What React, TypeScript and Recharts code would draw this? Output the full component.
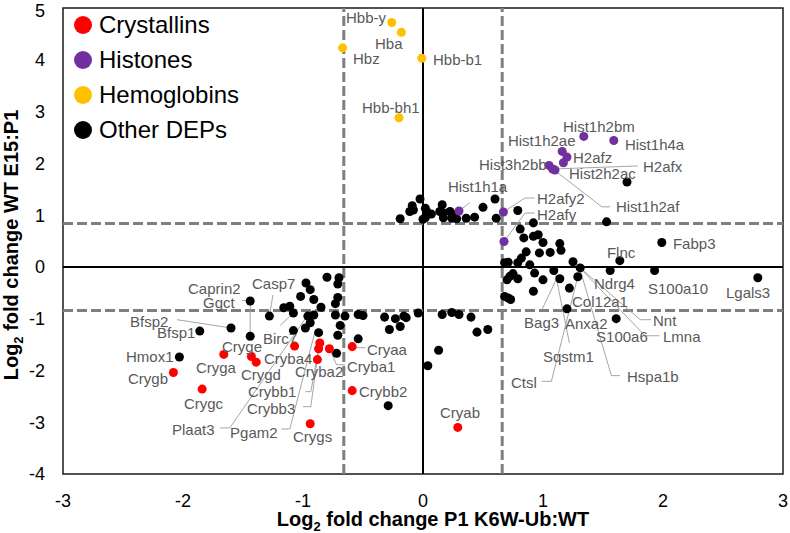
import React from "react";
import { ScatterChart, Scatter, XAxis, YAxis, ReferenceLine, ReferenceArea, Legend, Label } from "recharts";

type Pt = { name?: string; x: number; y: number };

const FONT = '"Liberation Sans", Arial, sans-serif';

const xTicks = [-3, -2, -1, 0, 1, 2, 3];
const yTicks = [-4, -3, -2, -1, 0, 1, 2, 3, 4, 5];
const xCut = 0.66;
const yCut = 0.84;

const crystallins: Pt[] = [
  { name: "Crygb", x: -2.08, y: -2.04 },
  { name: "Crygc", x: -1.84, y: -2.36 },
  { name: "Cryga", x: -1.66, y: -1.69 },
  { name: "Cryge", x: -1.43, y: -1.73 },
  { name: "Crygd", x: -1.39, y: -1.84 },
  { name: "Cryba4", x: -1.07, y: -1.53 },
  { name: "Crybb1", x: -0.86, y: -1.47 },
  { name: "Crybb3", x: -0.87, y: -1.58 },
  { name: "Cryba1", x: -0.78, y: -1.58 },
  { name: "Cryba2", x: -0.88, y: -1.79 },
  { name: "Crygs", x: -0.94, y: -3.03 },
  { name: "Cryaa", x: -0.59, y: -1.54 },
  { name: "Crybb2", x: -0.59, y: -2.39 },
  { name: "Cryab", x: 0.29, y: -3.1 },
];

const histones: Pt[] = [
  { name: "Hist1h2bm", x: 1.34, y: 2.52 },
  { name: "Hist1h4a", x: 1.59, y: 2.44 },
  { name: "Hist1h2ae", x: 1.16, y: 2.23 },
  { name: "H2afz", x: 1.2, y: 2.12 },
  { name: "Hist2h2ac", x: 1.17, y: 2.01 },
  { name: "Hist3h2bb", x: 1.05, y: 1.96 },
  { name: "H2afx", x: 1.08, y: 1.89 },
  { name: "Hist1h2af", x: 1.1, y: 1.87 },
  { name: "Hist1h1a", x: 0.3, y: 1.08 },
  { name: "H2afy2", x: 0.67, y: 1.06 },
  { name: "H2afy", x: 0.675, y: 0.49 },
];

const hemoglobins: Pt[] = [
  { name: "Hbb-y", x: -0.26, y: 4.72 },
  { name: "Hba", x: -0.18, y: 4.53 },
  { name: "Hbz", x: -0.67, y: 4.23 },
  { name: "Hbb-b1", x: -0.01, y: 4.03 },
  { name: "Hbb-bh1", x: -0.2, y: 2.88 },
];

// other differentially expressed proteins, [x, y]
const otherXY: [number, number][] = [
  // upper middle
  [-0.19, 0.93], [-0.09, 1.18], [-0.11, 1.07], [-0.025, 1.31], [-0.08, 1.1], [0.0, 0.92],
  [0.02, 1.13], [0.03, 1.07], [0.07, 1.02], [0.02, 0.95], [0.16, 1.2], [0.14, 1.07],
  [0.17, 1.04], [0.225, 1.07], [0.17, 0.95], [0.24, 0.94], [0.25, 1.01], [0.28, 0.93],
  [0.36, 0.94], [0.43, 0.96], [0.5, 1.15], [0.6, 1.31], [0.61, 0.94], [0.79, 1.09],
  // right
  [0.92, 0.85], [0.81, 0.73], [0.84, 0.56], [0.92, 0.59], [0.96, 0.62], [1.0, 0.47],
  [1.14, 0.45], [1.15, 0.32], [1.06, 0.28], [0.97, 0.27], [0.86, 0.29], [0.82, 0.17],
  [0.68, 0.08], [0.71, 0.09], [0.79, 0.08], [0.89, 0.04], [1.25, 0.1], [1.31, -0.02],
  [1.09, -0.07], [0.93, -0.12], [0.75, -0.13], [0.725, -0.18], [0.7, -0.25], [0.79, -0.23],
  [1.0, -0.25], [1.14, -0.23], [1.29, -0.19], [0.92, -0.47], [1.22, -0.41], [0.71, -0.6],
  [0.68, -0.57], [0.73, -0.63], [1.2, -0.81], [1.56, -0.07], [1.53, 0.87], [1.7, 1.64],
  [1.64, 0.12], [1.99, 0.47], [1.93, -0.07], [2.79, -0.21], [1.61, -1.0],
  // left
  [-0.975, -0.31], [-0.94, -0.44], [-1.02, -0.57], [-0.91, -0.63], [-0.8, -0.2], [-0.7, -0.21],
  [-0.71, -0.33], [-0.71, -0.59], [-0.73, -0.71], [-0.85, -0.78], [-1.16, -0.79], [-1.11, -0.76],
  [-1.08, -0.89], [-1.28, -0.95], [-1.44, -0.66], [-1.44, -1.34], [-0.96, -0.95], [-0.91, -0.93],
  [-0.94, -1.08], [-1.08, -1.23], [-0.98, -1.18], [-0.87, -1.27], [-0.73, -0.93], [-0.65, -0.95],
  [-0.69, -1.13], [-0.71, -1.32], [-0.54, -0.92], [-0.5, -0.94], [-0.32, -0.97], [-0.23, -1.0],
  [-0.16, -0.95], [-0.14, -0.98], [-0.19, -1.15], [-0.28, -1.21], [-0.04, -0.89], [-0.54, -1.39],
  [-0.72, -1.67], [0.04, -1.91], [0.13, -1.61], [0.16, -0.92], [0.24, -0.88], [0.3, -0.92],
  [0.4, -0.97], [0.45, -1.26], [0.54, -1.21], [-0.29, -2.68], [-1.6, -1.18], [-1.86, -1.24],
  [-2.03, -1.74],
];
const otherDeps: Pt[] = otherXY.map(([x, y]) => ({ x, y }));

// gene name anchors (left edge, middle of text), in axis units
const geneLabels: Pt[] = [
  { name: "Hbb-y", x: -0.642, y: 4.81 },
  { name: "Hba", x: -0.4, y: 4.32 },
  { name: "Hbz", x: -0.583, y: 4.02 },
  { name: "Hbb-b1", x: 0.083, y: 4.0 },
  { name: "Hbb-bh1", x: -0.508, y: 3.07 },
  { name: "Hist1h2bm", x: 1.167, y: 2.72 },
  { name: "Hist1h4a", x: 1.683, y: 2.36 },
  { name: "Hist1h2ae", x: 0.708, y: 2.45 },
  { name: "H2afz", x: 1.25, y: 2.12 },
  { name: "Hist3h2bb", x: 0.467, y: 1.97 },
  { name: "Hist2h2ac", x: 1.217, y: 1.81 },
  { name: "H2afx", x: 1.833, y: 1.93 },
  { name: "Hist1h2af", x: 1.608, y: 1.16 },
  { name: "Hist1h1a", x: 0.208, y: 1.56 },
  { name: "H2afy2", x: 0.95, y: 1.33 },
  { name: "H2afy", x: 0.95, y: 1.02 },
  { name: "Fabp3", x: 2.083, y: 0.46 },
  { name: "Flnc", x: 1.533, y: 0.27 },
  { name: "Ndrg4", x: 1.425, y: -0.33 },
  { name: "S100a10", x: 1.875, y: -0.41 },
  { name: "Lgals3", x: 2.525, y: -0.5 },
  { name: "Col12a1", x: 1.242, y: -0.66 },
  { name: "Bag3", x: 0.842, y: -1.08 },
  { name: "Anxa2", x: 1.183, y: -1.1 },
  { name: "Nnt", x: 1.917, y: -1.04 },
  { name: "S100a6", x: 1.442, y: -1.35 },
  { name: "Lmna", x: 2.0, y: -1.35 },
  { name: "Sqstm1", x: 1.0, y: -1.74 },
  { name: "Hspa1b", x: 1.7, y: -2.12 },
  { name: "Ctsl", x: 0.733, y: -2.24 },
  { name: "Caprin2", x: -1.958, y: -0.41 },
  { name: "Casp7", x: -1.425, y: -0.33 },
  { name: "Ggct", x: -1.833, y: -0.68 },
  { name: "Bfsp2", x: -2.442, y: -1.06 },
  { name: "Bfsp1", x: -2.217, y: -1.27 },
  { name: "Birc7", x: -1.333, y: -1.39 },
  { name: "Hmox1", x: -2.475, y: -1.74 },
  { name: "Crygb", x: -2.458, y: -2.16 },
  { name: "Cryga", x: -1.892, y: -1.95 },
  { name: "Cryge", x: -1.675, y: -1.54 },
  { name: "Crygd", x: -1.517, y: -2.07 },
  { name: "Crygc", x: -1.992, y: -2.63 },
  { name: "Cryba4", x: -1.325, y: -1.76 },
  { name: "Cryba2", x: -1.067, y: -2.03 },
  { name: "Crybb1", x: -1.458, y: -2.41 },
  { name: "Crybb3", x: -1.467, y: -2.74 },
  { name: "Plaat3", x: -2.092, y: -3.15 },
  { name: "Pgam2", x: -1.608, y: -3.19 },
  { name: "Crygs", x: -1.083, y: -3.28 },
  { name: "Cryaa", x: -0.467, y: -1.6 },
  { name: "Cryba1", x: -0.633, y: -1.93 },
  { name: "Crybb2", x: -0.533, y: -2.41 },
  { name: "Cryab", x: 0.142, y: -2.82 },
];

// leader lines from points to their names
const leaders: [number, number][][] = [
  [[0.3, 1.08], [0.39, 1.24]],
  [[0.67, 1.06], [0.85, 1.33], [0.93, 1.33]],
  [[0.675, 0.49], [0.85, 1.04], [0.93, 1.04]],
  [[1.08, 1.89], [1.79, 1.95]],
  [[1.1, 1.86], [1.49, 1.16], [1.56, 1.16]],
  [[-1.28, -0.95], [-1.25, -0.54]],
  [[-1.51, -0.65], [-1.44, -0.65], [-1.44, -1.34]],
  [[-2.05, -1.02], [-1.6, -1.18]],
  [[-1.19, -1.13], [-1.08, -0.89]],
  [[-0.98, -2.41], [-0.935, -2.41], [-0.86, -1.47]],
  [[-1.0, -2.7], [-0.935, -2.7], [-0.87, -1.58]],
  [[-0.78, -1.58], [-0.72, -1.89], [-0.65, -1.89]],
  [[-0.55, -1.56], [-0.48, -1.56]],
  [[-1.69, -3.11], [-1.61, -3.11], [-0.98, -1.0]],
  [[-1.18, -3.13], [-1.11, -3.13], [-0.9, -1.25]],
  [[1.25, 0.1], [1.81, -1.02], [1.9, -1.02]],
  [[1.27, 0.07], [1.85, -1.33], [1.97, -1.33]],
  [[1.31, -0.06], [1.57, -2.1], [1.64, -2.1]],
  [[1.1, -0.09], [1.22, -1.47]],
  [[1.11, -0.25], [0.99, -0.83]],
  [[1.29, -0.19], [1.07, -2.21], [0.99, -2.21]],
];

const seriesList = [
  { name: "Crystallins", color: "#ff0000", data: crystallins },
  { name: "Histones", color: "#7030a0", data: histones },
  { name: "Hemoglobins", color: "#ffc000", data: hemoglobins },
  { name: "Other DEPs", color: "#000000", data: otherDeps },
];

const LegendBox = () => (
  <div style={{ fontFamily: FONT, fontSize: 24, color: "#000" }}>
    {seriesList.map((s) => (
      <div key={s.name} style={{ display: "flex", alignItems: "center", height: 35 }}>
        <span style={{ width: 18, height: 18, borderRadius: "50%", background: s.color, marginRight: 7 }} />
        <span>{s.name}</span>
      </div>
    ))}
  </div>
);

const GeneName = (props: any) => (
  <text x={props.cx} y={props.cy} dominantBaseline="central" fontFamily={FONT} fontSize={15} fill="#595959">
    {props.payload.name}
  </text>
);

const XTitle = (props: any) => {
  const vb = props.viewBox;
  return (
    <text x={vb.x + vb.width / 2 + 10} y={vb.y + 52} textAnchor="middle" fontFamily={FONT} fontSize={20} fontWeight="bold" fill="#000">
      Log<tspan dy={5} fontSize={13}>2</tspan>
      <tspan dy={-5}> fold change  P1 K6W-Ub:WT</tspan>
    </text>
  );
};

const YTitle = (props: any) => {
  const vb = props.viewBox;
  const cx = 18;
  const cy = vb.y + vb.height / 2 + 4;
  return (
    <text x={cx} y={cy} transform={`rotate(-90 ${cx} ${cy})`} textAnchor="middle" fontFamily={FONT} fontSize={20} fontWeight="bold" fill="#000">
      Log<tspan dy={5} fontSize={13}>2</tspan>
      <tspan dy={-5}> fold change WT E15:P1</tspan>
    </text>
  );
};

export default function App() {
  const dash = { stroke: "#7f7f7f", strokeWidth: 3, strokeDasharray: "10 4" };
  return (
    <div style={{ position: "fixed", left: 0, top: 0, width: 790, height: 533, background: "#fff" }}>
      <ScatterChart width={790} height={533} margin={{ top: 8, right: 7, bottom: 0, left: 0 }}>
        <XAxis
          type="number"
          dataKey="x"
          domain={[-3, 3]}
          ticks={xTicks}
          axisLine={false}
          tickLine={false}
          tickSize={0}
          tickMargin={20}
          height={59}
          tick={{ fill: "#000", fontSize: 18, fontFamily: FONT }}
        >
          <Label content={XTitle} />
        </XAxis>
        <YAxis
          type="number"
          dataKey="y"
          domain={[-4, 5]}
          ticks={yTicks}
          axisLine={false}
          tickLine={false}
          tickSize={0}
          tickMargin={18}
          width={63}
          tick={{ fill: "#000", fontSize: 18, fontFamily: FONT }}
        >
          <Label content={YTitle} />
        </YAxis>
        <ReferenceArea x1={-3} x2={3} y1={-4} y2={5} fill="none" stroke="#1a1a1a" strokeWidth={1.5} />
        <ReferenceLine x={0} stroke="#000" strokeWidth={2} />
        <ReferenceLine y={0} stroke="#000" strokeWidth={2} />
        <ReferenceLine x={-xCut} {...dash} />
        <ReferenceLine x={xCut} {...dash} />
        <ReferenceLine y={-yCut} {...dash} />
        <ReferenceLine y={yCut} {...dash} />
        {leaders.flatMap((pts, i) =>
          pts.slice(1).map((p, j) => (
            <ReferenceLine
              key={`l${i}-${j}`}
              segment={[{ x: pts[j][0], y: pts[j][1] }, { x: p[0], y: p[1] }]}
              stroke="#a6a6a6"
              strokeWidth={1}
            />
          ))
        )}
        {[...seriesList].reverse().map((s) => (
          <Scatter key={s.name} name={s.name} data={s.data} fill={s.color} isAnimationActive={false} />
        ))}
        <Scatter name="genes" data={geneLabels} shape={GeneName} legendType="none" isAnimationActive={false} />
        <Legend
          layout="vertical"
          align="center"
          verticalAlign="middle"
          content={LegendBox}
          wrapperStyle={{ left: 74, top: 7, width: 200 }}
        />
      </ScatterChart>
    </div>
  );
}
